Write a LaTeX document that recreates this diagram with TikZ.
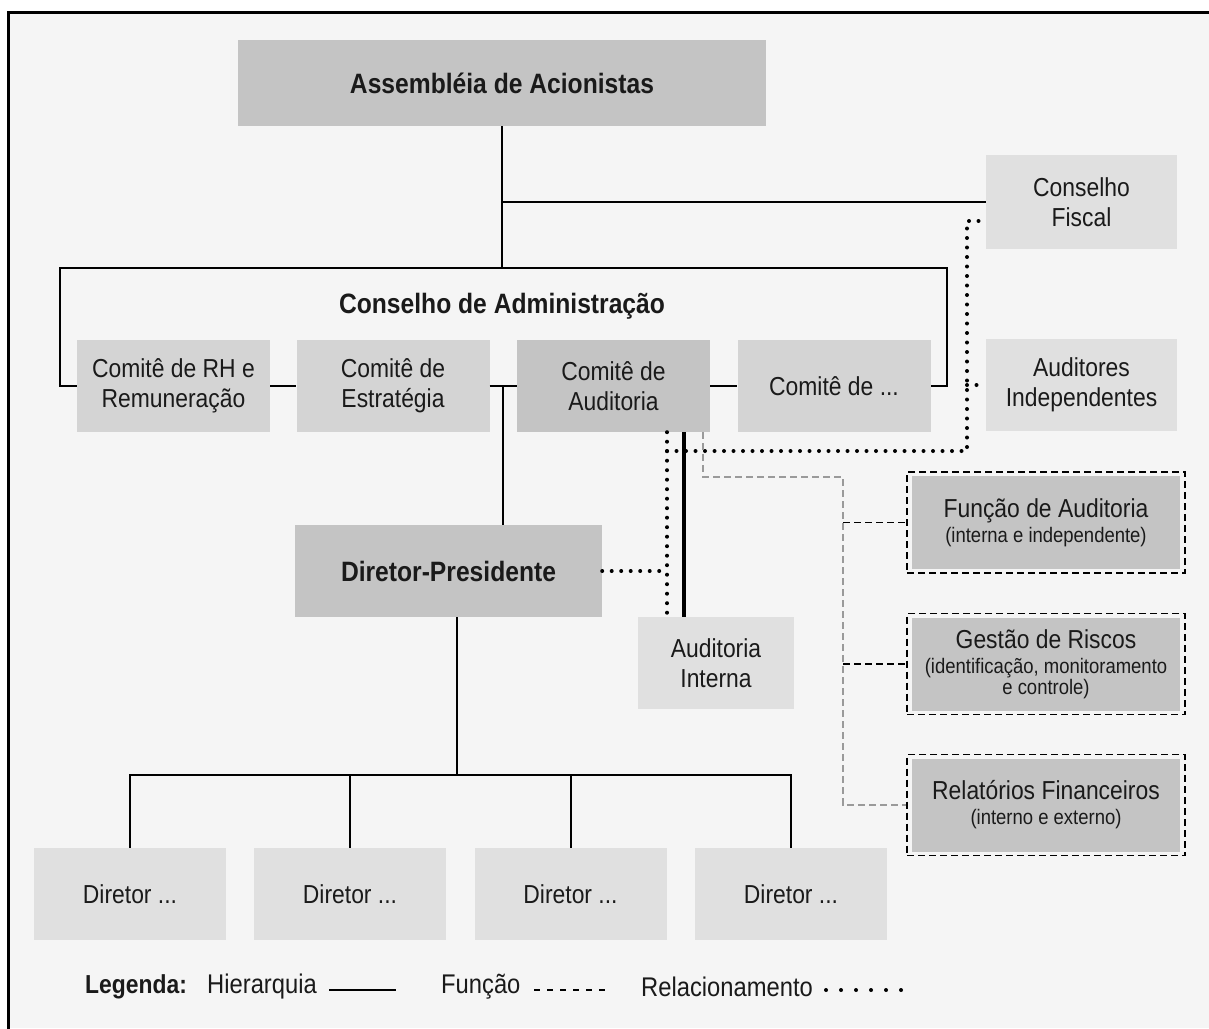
\documentclass[tikz,border=0pt]{standalone}
\usepackage{fontspec}
\setmainfont{Liberation Sans}[FakeStretch=0.88]
\usetikzlibrary{calc}
\definecolor{bg}{HTML}{F5F5F5}
\definecolor{dark}{HTML}{C4C4C4}
\definecolor{mid}{HTML}{D4D4D4}
\definecolor{light}{HTML}{E0E0E0}
\definecolor{txt}{HTML}{1A1A1A}
\definecolor{fgray}{HTML}{9A9A9A}
\begin{document}
\begin{tikzpicture}[x=1pt,y=-1pt,
 box/.style={inner sep=0pt, align=center, text=txt, font=\fontsize{26}{30}\selectfont},
 bbox/.style={box, font=\bfseries\fontsize{28}{32}\selectfont},
 std/.style={minimum width=193pt, minimum height=92pt},
 hier/.style={line width=2pt, draw=black},
 thickl/.style={line width=3.2pt, draw=black},
 rel/.style={line width=4pt, line cap=round, dash pattern=on 0pt off 9.5pt},
 func/.style={line width=1.6pt, dash pattern=on 7pt off 4pt},
 funcg/.style={func, draw=fgray},
 dbox/.style={box, draw=black, line width=1.6pt, dash pattern=on 7pt off 4pt, fill=bg,
   minimum width=278pt, minimum height=101pt,
   path picture={\fill[dark] ([shift={(5pt,-4pt)}]path picture bounding box.north west) rectangle ([shift={(-5pt,4pt)}]path picture bounding box.south east);}},
]
\useasboundingbox (0,0) rectangle (1209,1028);
\fill[white] (0,0) rectangle (1209,1028);
\fill[bg] (8,12) rectangle (1209,1028);
\draw[line width=3pt] (8,1030) -- (8,12) -- (1211,12);

% nodes
\node[bbox, fill=dark, minimum width=528pt, minimum height=86pt] (asm) at (502,83) {Assembléia de Acionistas};
\node[box, fill=light, minimum width=191pt, minimum height=94pt] (fiscal) at (1081.5,202) {Conselho\\Fiscal};
\node[bbox] (cadm) at (502,306) {Conselho de Administração};
\node[box, std, fill=mid] (rh) at (173.5,386) {Comitê de RH e\\Remuneração};
\node[box, std, fill=mid] (estr) at (393,386) {Comitê de\\Estratégia};
\node[box, std, fill=dark] (caud) at (613.5,386) {Comitê de\\Auditoria};
\node[box, std, fill=mid] (cetc) at (834,386) {Comitê de ...};
\node[box, fill=light, minimum width=191pt, minimum height=92pt] (audind) at (1081.5,385) {Auditores\\Independentes};
\node[bbox, fill=dark, minimum width=307pt, minimum height=92pt] (dp) at (448.5,571) {Diretor-Presidente};
\node[box, fill=light, minimum width=156pt, minimum height=92pt] (ai) at (716,663) {Auditoria\\Interna};
\node[dbox] (fa) at (1046,522.5) {Função de Auditoria\\[-5pt]{\fontsize{21}{22}\selectfont(interna e independente)}};
\node[dbox] (gr) at (1046,664) {Gestão de Riscos\\[-5pt]{\fontsize{21}{22}\selectfont(identificação, monitoramento}\\[-9pt]{\fontsize{21}{22}\selectfont e controle)}};
\node[dbox] (rf) at (1046,805) {Relatórios Financeiros\\[-5pt]{\fontsize{21}{22}\selectfont(interno e externo)}};
\node[box, std, fill=light, minimum width=192pt] (d1) at (130,894) {Diretor ...};
\node[box, std, fill=light, minimum width=192pt] (d2) at (350,894) {Diretor ...};
\node[box, std, fill=light, minimum width=192pt] (d3) at (570.5,894) {Diretor ...};
\node[box, std, fill=light, minimum width=192pt] (d4) at (791,894) {Diretor ...};

% coordinates
\coordinate (tl) at (60,268);
\coordinate (tr) at (947,268);
\coordinate (jt) at ($(estr.east)!0.5!(caud.west)$);
\coordinate (hub) at (457,775);
\coordinate (xa) at (684,0);
\coordinate (xr) at (667,0);
\coordinate (xs) at (967,0);
\coordinate (yr) at (0,451);
\coordinate (yf) at (0,221);
\coordinate (xg) at (703,0);
\coordinate (yg) at (0,477);
\coordinate (xv) at (843,0);

% hierarchy
\draw[hier] (rh.west) -| (tl) -- (tr) |- (cetc.east);
\draw[hier] (asm.south) -- (asm.south |- tl);
\draw[hier] (asm.south |- fiscal.west) -- (fiscal.west);
\draw[hier] (rh.east) -- (estr.west);
\draw[hier] (estr.east) -- (caud.west);
\draw[hier] (caud.east) -- (cetc.west);
\draw[hier] (jt) -- (jt |- dp.north);
\draw[hier] (hub |- dp.south) -- (hub);
\draw[hier] (d1.north) -- (d1.north |- hub) -- (d4.north |- hub) -- (d4.north);
\draw[hier] (d2.north) -- (d2.north |- hub);
\draw[hier] (d3.north) -- (d3.north |- hub);
\draw[thickl] (caud.south -| xa) -- (ai.north -| xa);

% relationship (dotted)
\draw[rel] (caud.south -| xr) -- (ai.north -| xr);
\draw[rel] (dp.east) -- (dp.east -| xr);
\draw[rel] (xr |- yr) -- (xs |- yr) -- (xs |- yf) -- ([xshift=-6pt]fiscal.west |- yf);
\draw[rel] (xs |- audind.west) -- (audind.west);

% function (dashed)
\draw[funcg] (caud.south -| xg) -- (xg |- yg) -- (xv |- yg) |- (rf.west);
\draw[func] (xv |- fa.west) -- (fa.west);
\draw[func] (xv |- gr.west) -- (gr.west);

% legend
\node[anchor=west, inner sep=0pt, text=txt, font=\bfseries\fontsize{26}{28}\selectfont] (leg) at (85,987) {Legenda:};
\node[anchor=west, inner sep=0pt, text=txt, font=\fontsize{27}{30}\selectfont] (lh) at (207,987) {Hierarquia};
\node[anchor=west, inner sep=0pt, text=txt, font=\fontsize{27}{30}\selectfont] (lf) at (441,987) {Função};
\node[anchor=west, inner sep=0pt, text=txt, font=\fontsize{27}{30}\selectfont] (lr) at (641,987) {Relacionamento};
\draw[hier] (329,990) -- (396,990);
\draw[line width=1.6pt, dash pattern=on 6pt off 7pt] (534,990) -- (606,990);
\draw[rel, dash pattern=on 0pt off 15pt] (826,990) -- (901,990);
\end{tikzpicture}
\end{document}
